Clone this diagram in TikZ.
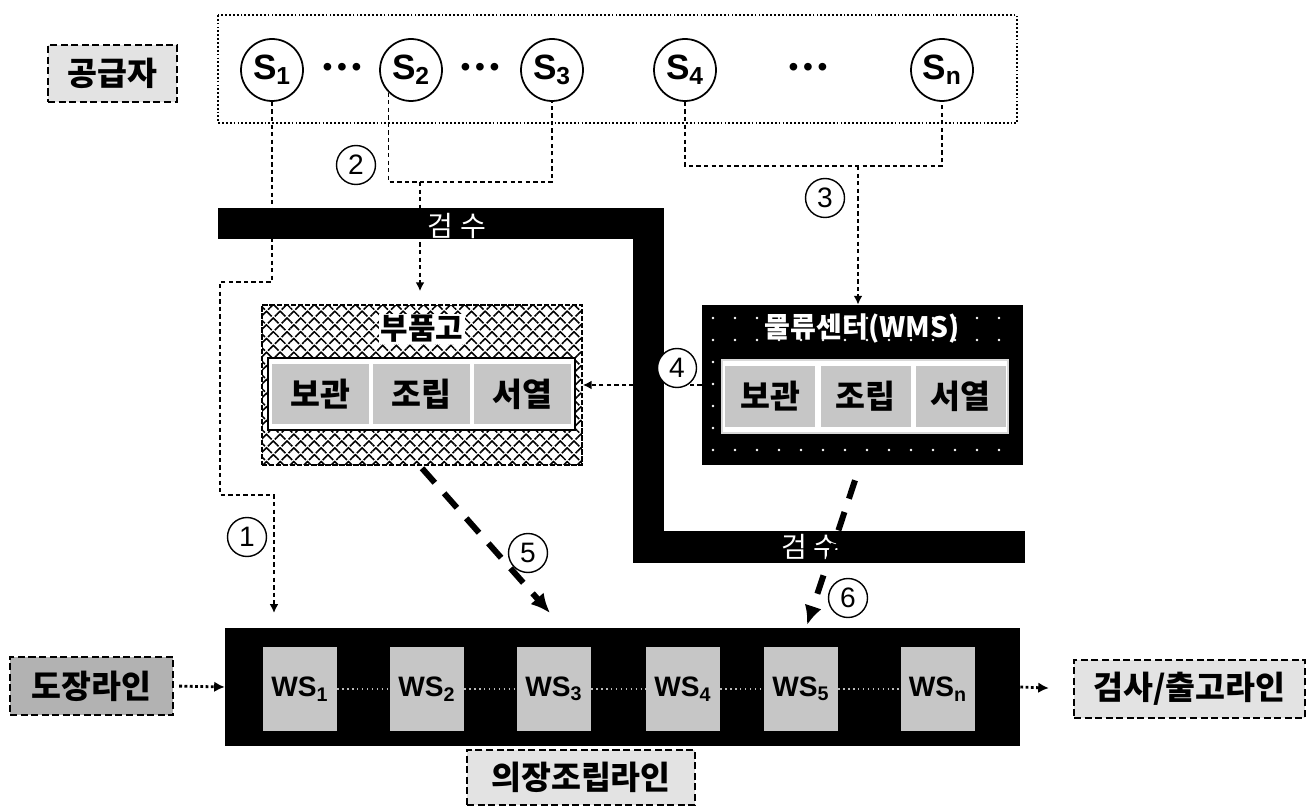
\documentclass[tikz,border=0pt]{standalone}
\usepackage{fontspec}
\setmainfont{Liberation Sans}
\newfontfamily\kr{Noto Sans CJK KR}
\usetikzlibrary{arrows.meta,patterns.meta}

\tikzset{
  etiqueta/.style={draw,line width=1.4pt,dash pattern=on 4pt off 2pt,fill=gray!22,inner sep=0pt,
    font=\kr\bfseries\fontsize{18.5}{20}\selectfont},
  prov/.style={circle,draw,line width=1pt,fill=white,minimum size=1.24cm,inner sep=0pt,
    font=\bfseries\fontsize{20}{22}\selectfont},
  num/.style={circle,draw,line width=0.8pt,fill=white,minimum size=0.78cm,inner sep=0pt,
    font=\fontsize{16}{17}\selectfont},
  enlace/.style={line width=1pt,dash pattern=on 2.5pt off 1.8pt},
  flujo/.style={enlace,-{Latex[length=5pt,width=5pt]}},
  punteado/.style={line width=1.6pt,dash pattern=on 1.6pt off 1.4pt,-{Latex[length=6pt,width=6pt]}},
  grueso/.style={line width=3.4pt,dash pattern=on 11pt off 8pt,-{Latex[length=11pt,width=10pt]}},
  celda/.style={fill=gray!45,minimum height=1.22cm,inner sep=0pt,font=\kr\bfseries\fontsize{18.5}{20}\selectfont},
  ws/.style={fill=gray!45,minimum width=1.48cm,minimum height=1.7cm,inner sep=0pt,
    font=\bfseries\fontsize{16}{18}\selectfont},
}

\begin{document}
\begin{tikzpicture}[x=0.02cm,y=-0.02cm]
    \fill[white] (0,0) rectangle (1307,810);
    \useasboundingbox (0,0) rectangle (1307,810);

    % Proveedores
    \node[etiqueta,minimum width=2.58cm,minimum height=1.14cm] (gonggup) at (112.5,73.5) {공급자};
    \draw[line width=0.6pt,dash pattern=on 1pt off 1.2pt] (218,15) rectangle (1017,123);
    \foreach \n/\x/\t in {s1/272/1,s2/411/2,s3/552/3,s4/685/4,sn/942/n}
      \node[prov] (\n) at (\x,70) {S\textsubscript{\t}};
    \foreach \n/\x in {d12/342,d23/480,d4n/808}
      \node[font=\fontsize{16}{18}\selectfont] (\n) at (\x,70) {\textbullet\,\textbullet\,\textbullet};

    % Linea de 검수
    \draw[line width=18.2pt] (218,223.5) -- (648.5,223.5) -- (648.5,547) -- (1025,547);
    \node[text=white,font=\kr\fontsize{16}{18}\selectfont] (gs1) at (457,226) {검 수};
    \node[text=white,font=\kr\fontsize{16}{18}\selectfont] (gs2) at (810,547) {검 수};

    % 부품고
    \node[draw,line width=1.2pt,dash pattern=on 3pt off 1pt,minimum width=6.4cm,minimum height=3.2cm,
      pattern={Hatch[angle=45,distance=5.5pt,line width=0.9pt]}] (bupum) at (422,385) {};
    \node[fill=white,inner sep=1pt,font=\kr\bfseries\fontsize{17}{18}\selectfont] (bptit) at (422,329) {부품고};
    \node[draw,line width=1.5pt,fill=white,minimum width=6.14cm,minimum height=1.44cm] (bpin) at (421.5,394) {};
    \foreach \i/\x/\t in {1/320.5/보관,2/421.5/조립,3/522.5/서열}
      \node[celda,minimum width=1.94cm] (bp\i) at (\x,394) {\t};

    % 물류센터
    \node[fill=black,minimum width=6.42cm,minimum height=3.2cm] (wms) at (862.5,385) {};
    \foreach \i in {0,...,13}
      \foreach \j in {0,...,6}
        \fill[white] (713+\i*22,318+\j*22) circle (0.8pt);
    \node[text=white,font=\kr\bfseries\fontsize{16}{18}\selectfont] (wmstit) at (862,329) {물류센터(WMS)};
    \node[draw=gray!30,line width=1.5pt,fill=white,minimum width=5.72cm,minimum height=1.46cm] (wmsin) at (865,396.5) {};
    \foreach \i/\x/\t in {1/770/보관,2/865.5/조립,3/960.5/서열}
      \node[celda,minimum width=1.8cm] (wm\i) at (\x,396.5) {\t};

    % Linea de montaje
    \node[fill=black,minimum width=15.9cm,minimum height=2.36cm] (banda) at (622.5,687) {};
    \foreach \n/\x/\t in {ws1/300/1,ws2/427/2,ws3/554/3,ws4/683/4,ws5/801/5,wsn/938/n}
      \node[ws] (\n) at (\x,689) {WS\textsubscript{\t}};
    \foreach \a/\b in {ws1/ws2,ws2/ws3,ws3/ws4,ws4/ws5,ws5/wsn}
      \draw[gray!55,dotted,line width=0.8pt] (\a) -- (\b);

    \node[etiqueta,fill=gray!60,minimum width=3.26cm,minimum height=1.16cm] (dojang) at (91.5,686) {도장라인};
    \node[etiqueta,minimum width=4.56cm,minimum height=1.1cm] (uijang) at (581,777.5) {의장조립라인};
    \node[etiqueta,minimum width=4.62cm,minimum height=1.16cm] (geomsa) at (1189.5,689) {검사/출고라인};

    % Flujos
    \coordinate (t1) at (274,613);
    \draw[flujo] (s1.south) -- (272,282) -- (220,282) -- (220,495) -- (274,495) -- (t1);

    \coordinate (m23) at (420,182);
    \draw[enlace] (s2.south west) |- (m23) -| (s3.south);
    \draw[flujo,shorten >=0.26cm] (m23) -- (m23 |- bupum.north);

    \coordinate (m4n) at (858,166);
    \draw[enlace] (s4.south) |- (m4n) -| (sn.south);
    \draw[flujo] (m4n) -- (m4n |- wms.north);

    \draw[flujo] (wms.west) -- (bupum.east);

    \coordinate (t5) at (550,613);
    \draw[grueso] ([yshift=-0.05cm]bupum.south) -- (t5);
    \coordinate (t6) at (807,625);
    \draw[grueso] ([xshift=-0.15cm,yshift=-0.3cm]wms.south) -- (t6);

    \draw[punteado,shorten <=0.1cm] (dojang.east) -- (banda.west);
    \draw[punteado,shorten >=0.48cm] (banda.east) -- (geomsa.west);

    % Numeros
    \node[num] (n1) at (247,537) {1};
    \node[num] (n2) at (356,165) {2};
    \node[num] (n3) at (825,198) {3};
    \node[num] (n4) at (677,368) {4};
    \node[num] (n5) at (528,553) {5};
    \node[num] (n6) at (848,598) {6};
\end{tikzpicture}
\end{document}
